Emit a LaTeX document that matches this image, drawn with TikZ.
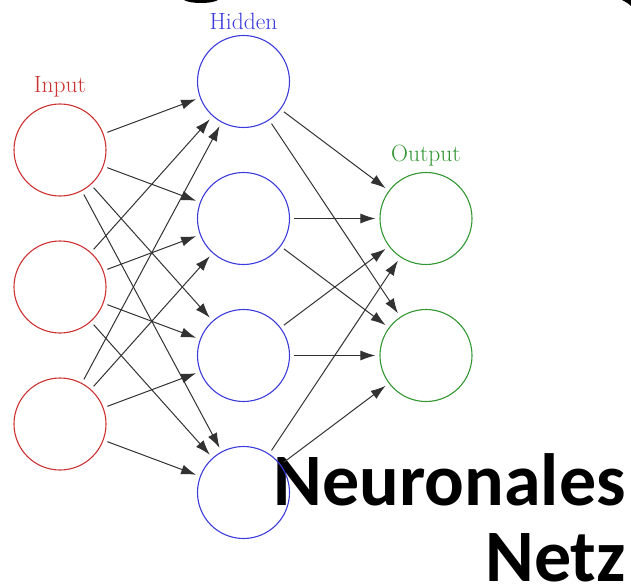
\documentclass[tikz,border=0pt]{standalone}
\usepackage{fontspec}
\newfontfamily\slidefont{Carlito}
\usetikzlibrary{arrows.meta}
\definecolor{inred}{RGB}{205,50,50}
\definecolor{hidblue}{RGB}{60,60,220}
\definecolor{outgreen}{RGB}{50,150,50}
\definecolor{synapse}{RGB}{50,50,50}
\tikzset{
  neuron/.style={circle, draw, minimum size=92pt, inner sep=0pt, line width=1.1pt},
  layerlabel/.style={inner sep=0pt, anchor=base, font=\fontsize{23.5}{28}\selectfont},
  synapsearrow/.style={draw=synapse, line width=1pt, -{Latex[length=15pt,width=10pt]}, shorten <=4pt, shorten >=4pt},
  slidetext/.style={inner sep=0pt, anchor=base east, font=\slidefont\bfseries\fontsize{74}{78}\selectfont}
}
\begin{document}
\begin{tikzpicture}[x=1pt, y=-1pt]
  \useasboundingbox (0,0) rectangle (631,588);

  % cut-off title of the slide
  \fill (184,0) .. controls (190,4) and (212,4) .. (218,0) -- cycle;
  \fill (622,0) .. controls (626,2) and (629,4) .. (631,6) -- (631,0) -- cycle;

  % slide text
  \node[slidetext] (word1) at (626,505) {Neuronales};
  \node[slidetext] (word2) at (626,581) {Netz};

  % input layer
  \foreach \n/\y in {1/150, 2/287, 3/424}
    \node[neuron, draw=inred] (I-\n) at (60,\y) {};

  % hidden layer
  \foreach \n/\y in {1/81.5, 2/218.5, 3/355.5, 4/492.5}
    \node[neuron, draw=hidblue] (H-\n) at (243.5,\y) {};

  % output layer
  \foreach \n/\y in {1/218.5, 2/355.5}
    \node[neuron, draw=outgreen] (O-\n) at (426,\y) {};

  % layer labels
  \node[layerlabel, text=inred] (I-label) at (60,93) {Input};
  \node[layerlabel, text=hidblue] (H-label) at (243.5,30) {Hidden};
  \node[layerlabel, text=outgreen] (O-label) at (426,162) {Output};

  % connections
  \foreach \s in {1,...,3}
    \foreach \d in {1,...,4}
      \draw[synapsearrow] (I-\s) -- (H-\d);
  \foreach \s in {1,...,4}
    \foreach \d in {1,2}
      \draw[synapsearrow] (H-\s) -- (O-\d);
\end{tikzpicture}
\end{document}
